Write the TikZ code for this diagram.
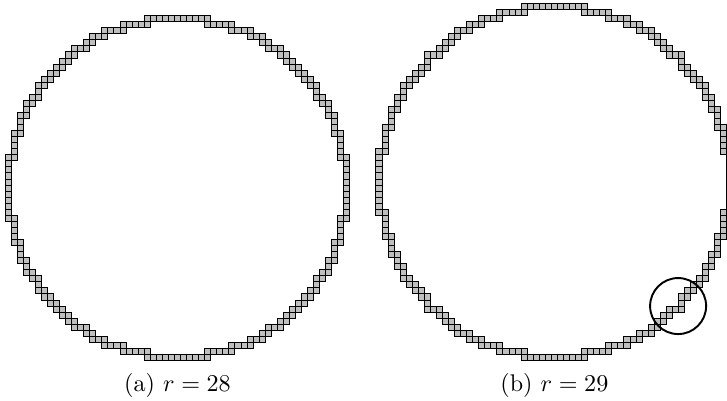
\documentclass[tikz,border=0pt]{standalone}
\usepackage{tikz}
\definecolor{cellgray}{RGB}{191,191,191}
\tikzset{
    cell/.style={fill=cellgray, draw=black, line width=0.4pt},
    ring/.style={draw=black, line width=0.8pt},
}
% cells met by the circle of radius #1 around the origin
\newcommand{\pixcircle}[1]{%
    \foreach \i in {-#1,...,#1} {
        \pgfmathsetmacro{\ia}{max(abs(\i)-0.5,0)}
        \pgfmathsetmacro{\ib}{abs(\i)+0.5}
        \pgfmathtruncatemacro{\jtop}{floor(sqrt(#1*#1-\ia*\ia)+0.5)}
        \pgfmathtruncatemacro{\jbot}{max(ceil(sqrt(max(#1*#1-\ib*\ib,0))-0.5),0)}
        \foreach \j in {\jbot,...,\jtop} {
            \draw[cell] (\i-0.5, \j-0.5) rectangle ++(1,1);
            \draw[cell] (\i-0.5, -\j-0.5) rectangle ++(1,1);
        }
    }%
}

\begin{document}
\begin{tikzpicture}[x=2.51pt, y=2.51pt]
    \useasboundingbox (-29.34,-35.19) rectangle (90.83,31.09);
    \clip (-29.34,-35.19) rectangle (90.83,31.09);

    % Draw circle r = 28
    \pixcircle{28}

    % Draw circle r = 29
    \begin{scope}[shift={(62.3,1)}]
        \pixcircle{29}
        \coordinate (spot) at (20.45,-20.5);
        \draw[ring] (spot) circle (4.63);
    \end{scope}

    \node (capa) at (0,-32.7) {(a) $r = 28$};
    \node (capb) at (62.3,-32.7) {(b) $r = 29$};
\end{tikzpicture}
\end{document}
